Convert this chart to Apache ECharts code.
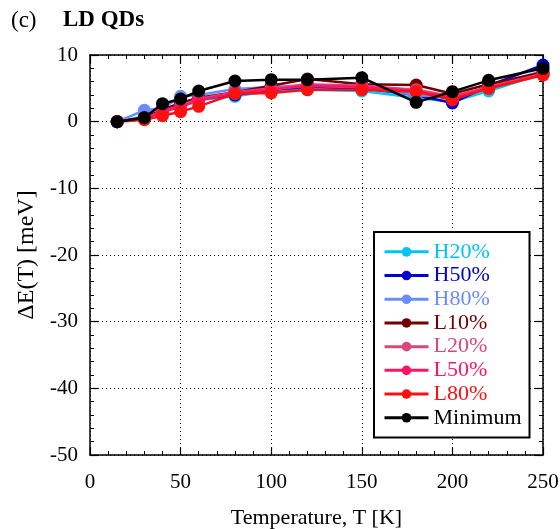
<!DOCTYPE html>
<html>
<head>
<meta charset="utf-8">
<script src="https://cdn.jsdelivr.net/npm/echarts@6/dist/echarts.min.js"></script>
<style>
  html, body { margin: 0; padding: 0; background: #fff; }
  #chart { width: 560px; height: 529px; }
</style>
</head>
<body>
<div id="chart"></div>
<script>
// Temperature points (K)
const temperatures = [15, 30, 40, 50, 60, 80, 100, 120, 150, 180, 200, 220, 250];

// Energy shift ΔE(T) in meV for each dot group
const h20 = [0, 0.8, 1.5, 2.8, 3.2, 3.8, 4.6, 4.8, 4.6, 3.6, 3.0, 4.6, 7.2];
const h50 = [0, 0.6, 1.4, 2.6, 3.4, 4.0, 4.8, 5.2, 5.0, 4.0, 2.8, 5.4, 8.5];
const h80 = [0, 1.7, 2.0, 3.8, 4.0, 4.9, 5.2, 5.4, 5.2, 4.0, 3.5, 5.2, 7.6];
const l10 = [0, 0.6, 1.8, 2.8, 3.6, 4.4, 5.4, 6.4, 5.6, 5.5, 4.2, 5.6, 7.4];
const l20 = [0, 0.5, 1.6, 2.4, 3.4, 4.4, 5.0, 5.6, 5.4, 4.8, 3.8, 5.2, 7.2];
const l50 = [0, 0.5, 1.5, 2.2, 3.2, 4.3, 4.8, 5.4, 5.2, 4.6, 3.6, 5.0, 7.0];
const l80 = [0, 0.3, 0.9, 1.5, 2.3, 4.2, 4.3, 4.8, 4.8, 4.5, 3.3, 5.0, 7.0];
const minimum = [0, 0.6, 2.7, 3.4, 4.6, 6.1, 6.3, 6.3, 6.6, 2.9, 4.5, 6.2, 8.0];

const seriesNames = ['H20%', 'H50%', 'H80%', 'L10%', 'L20%', 'L50%', 'L80%', 'Minimum'];
const seriesValues = [h20, h50, h80, l10, l20, l50, l80, minimum];
const seriesColors = ['#00c4f4', '#0000d0', '#6a8cff', '#740000', '#d8487a', '#ff1468', '#ff1010', '#000000'];

const serif = '"Liberation Serif", "DejaVu Serif", serif';

const chart = echarts.init(document.getElementById('chart'), null, { renderer: 'canvas' });

const series = seriesNames.map((name, i) => ({
  name: name,
  type: 'line',
  xAxisIndex: 0,
  yAxisIndex: 0,
  data: temperatures.map((t, j) => [t, seriesValues[i][j]]),
  symbol: 'circle',
  symbolSize: 13,
  showSymbol: true,
  lineStyle: { color: seriesColors[i], width: 2.5 },
  itemStyle: { color: seriesColors[i] },
  emphasis: { disabled: true },
  animation: false,
  z: 2 + i
}));

const axisLineStyle = { show: true, onZero: false, lineStyle: { color: '#000', width: 1.5 } };
const majorTick = { inside: true, length: 8, lineStyle: { color: '#000', width: 1.2 } };
const smallTick = { inside: true, length: 4, lineStyle: { color: '#000', width: 1 } };
const gridLine = { show: true, lineStyle: { color: '#000', width: 1, type: [1, 3] } };
const noLabel = { show: false };
const noSplit = { show: false };

// Frame axis (major ticks only) and a companion axis carrying the small ticks
function xFrame(position) {
  return { type: 'value', position: position, min: 0, max: 250, interval: 50,
    axisLine: axisLineStyle, axisTick: majorTick, axisLabel: noLabel, splitLine: noSplit };
}
function xSmall(position) {
  return { type: 'value', position: position, min: 0, max: 250, interval: 10,
    axisLine: { show: false, onZero: false }, axisTick: smallTick, axisLabel: noLabel, splitLine: noSplit };
}
function yFrame(position) {
  return { type: 'value', position: position, min: -50, max: 10, interval: 10,
    axisLine: axisLineStyle, axisTick: majorTick, axisLabel: noLabel, splitLine: noSplit };
}
function ySmall(position) {
  return { type: 'value', position: position, min: -50, max: 10, interval: 2,
    axisLine: { show: false, onZero: false }, axisTick: smallTick, axisLabel: noLabel, splitLine: noSplit };
}

chart.setOption({
  backgroundColor: '#fff',
  animation: false,
  graphic: [
    { type: 'text', left: 11, top: 9, style: { text: '(c)', font: '23px ' + serif, fill: '#000' } },
    { type: 'text', left: 63, top: 9, style: { text: 'LD QDs', font: 'bold 23px ' + serif, fill: '#000' } }
  ],
  grid: { left: 90, right: 17, top: 55, bottom: 74, containLabel: false, outerBoundsMode: 'none' },
  legend: {
    left: 374,
    top: 232,
    orient: 'vertical',
    padding: [8, 8, 8, 9],
    backgroundColor: '#fff',
    borderColor: '#000',
    borderWidth: 2,
    borderRadius: 0,
    itemWidth: 44,
    itemHeight: 12,
    itemGap: 0,
    selectedMode: false,
    lineStyle: { width: 3 },
    textStyle: { fontFamily: serif, fontSize: 22, lineHeight: 23.7 },
    data: seriesNames.map((n, i) => ({ name: n, textStyle: { color: seriesColors[i] } }))
  },
  xAxis: [
    {
      type: 'value', position: 'bottom', min: 0, max: 250, interval: 50,
      name: 'Temperature, T [K]', nameLocation: 'middle', nameGap: 52,
      nameTextStyle: { fontFamily: serif, fontSize: 22, color: '#000' },
      axisLine: axisLineStyle,
      axisTick: majorTick,
      axisLabel: { margin: 17, fontFamily: serif, fontSize: 21, color: '#000' },
      splitLine: gridLine
    },
    xFrame('top'),
    xSmall('bottom'),
    xSmall('top')
  ],
  yAxis: [
    {
      type: 'value', position: 'left', min: -50, max: 10, interval: 10,
      name: 'ΔE(T) [meV]', nameLocation: 'middle', nameGap: 50, nameRotate: 90,
      nameTextStyle: { fontFamily: serif, fontSize: 24, color: '#000' },
      axisLine: axisLineStyle,
      axisTick: majorTick,
      axisLabel: { margin: 12, fontFamily: serif, fontSize: 21, color: '#000' },
      splitLine: gridLine
    },
    yFrame('right'),
    ySmall('left'),
    ySmall('right')
  ],
  series: series
});
</script>
</body>
</html>
